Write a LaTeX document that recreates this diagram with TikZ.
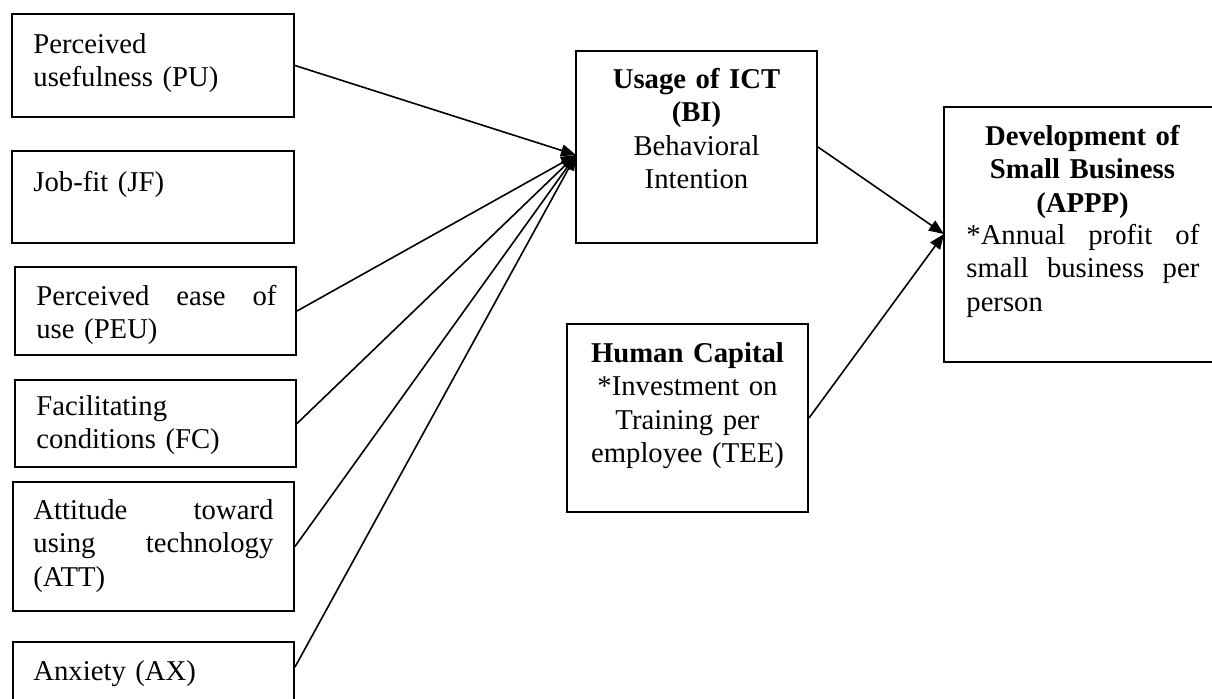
\documentclass[tikz,border=0pt]{standalone}
\usepackage{fontspec}
\setmainfont{Liberation Serif}
\usetikzlibrary{arrows.meta}
\begin{document}
\begin{tikzpicture}[x=0.5pt,y=-0.5pt,
  box/.style={draw, line width=1pt, rectangle, inner sep=0pt},
  txt/.style={inner sep=0pt, font=\fontsize{14.35pt}{16.75pt}\selectfont},
  ltxt/.style={txt, anchor=base west, text width=120pt, align=left},
  ctxt/.style={txt, anchor=base, text width=120pt, align=center},
  link/.style={line width=0.8pt, -{Triangle[length=7.5pt,width=6pt]}}]
\useasboundingbox (0,0) rectangle (1212,698);

% predictor boxes
\node[box, minimum width=141pt, minimum height=51.5pt] (pu)  at (153,65.5) {};
\node[box, minimum width=141pt, minimum height=46pt]   (jf)  at (153,197) {};
\node[box, minimum width=140.5pt, minimum height=44pt] (peu) at (155.5,311) {};
\node[box, minimum width=140.5pt, minimum height=43.5pt] (fc) at (155.5,423.5) {};
\node[box, minimum width=140.5pt, minimum height=64.5pt] (att) at (153.5,546.5) {};
\node[box, minimum width=140.5pt, minimum height=34pt] (ax) at (153.5,676) {};

\node[ltxt] (pu-t)  at (33,53)  {Perceived\\usefulness (PU)};
\node[ltxt] (jf-t)  at (33,191) {Job-fit (JF)};
\node[ltxt] (peu-t) at (36,305) {Perceived\hfill ease\hfill of\\use (PEU)};
\node[ltxt] (fc-t)  at (36,415) {Facilitating\\conditions (FC)};
\node[ltxt] (att-t) at (33,519) {Attitude\hfill toward\\using\hfill technology\\(ATT)};
\node[ltxt] (ax-t)  at (33,680) {Anxiety (AX)};

% intention, human capital and outcome boxes
\node[box, minimum width=120.5pt, minimum height=96pt] (bi) at (696.5,147) {};
\node[box, minimum width=120.5pt, minimum height=94pt] (hc) at (687.5,418) {};
\node[box, minimum width=150pt, minimum height=127.5pt] (appp) at (1094,234.5) {};

\node[ctxt] (bi-t) at (696.5,88) {\textbf{Usage of ICT}\\\textbf{(BI)}\\Behavioral\\Intention};
\node[ctxt] (hc-t) at (687.5,362) {\textbf{Human Capital}\\{*}Investment on\\Training per\\employee (TEE)};
\node[ctxt, text width=116.5pt] (appp-h) at (1082.5,145) {\textbf{Development of}\\\textbf{Small Business}\\\textbf{(APPP)}};
\node[ltxt, text width=116.5pt] (appp-t) at (966,244) {{*}Annual\hfill profit\hfill of\\small\hfill business\hfill per\\person};

% arrow targets
\coordinate (bi-in) at (576,155);
\coordinate (appp-in) at (944,234);

\draw[link] (pu.east)  -- (bi-in);
\draw[link] (peu.east) -- (bi-in);
\draw[link] (fc.east)  -- (bi-in);
\draw[link] (att.east) -- (bi-in);
\draw[link] ([yshift=4.5pt]ax.east) -- (bi-in);
\draw[link] (bi.east)  -- (appp-in);
\draw[link] (hc.east)  -- (appp-in);
\end{tikzpicture}
\end{document}
